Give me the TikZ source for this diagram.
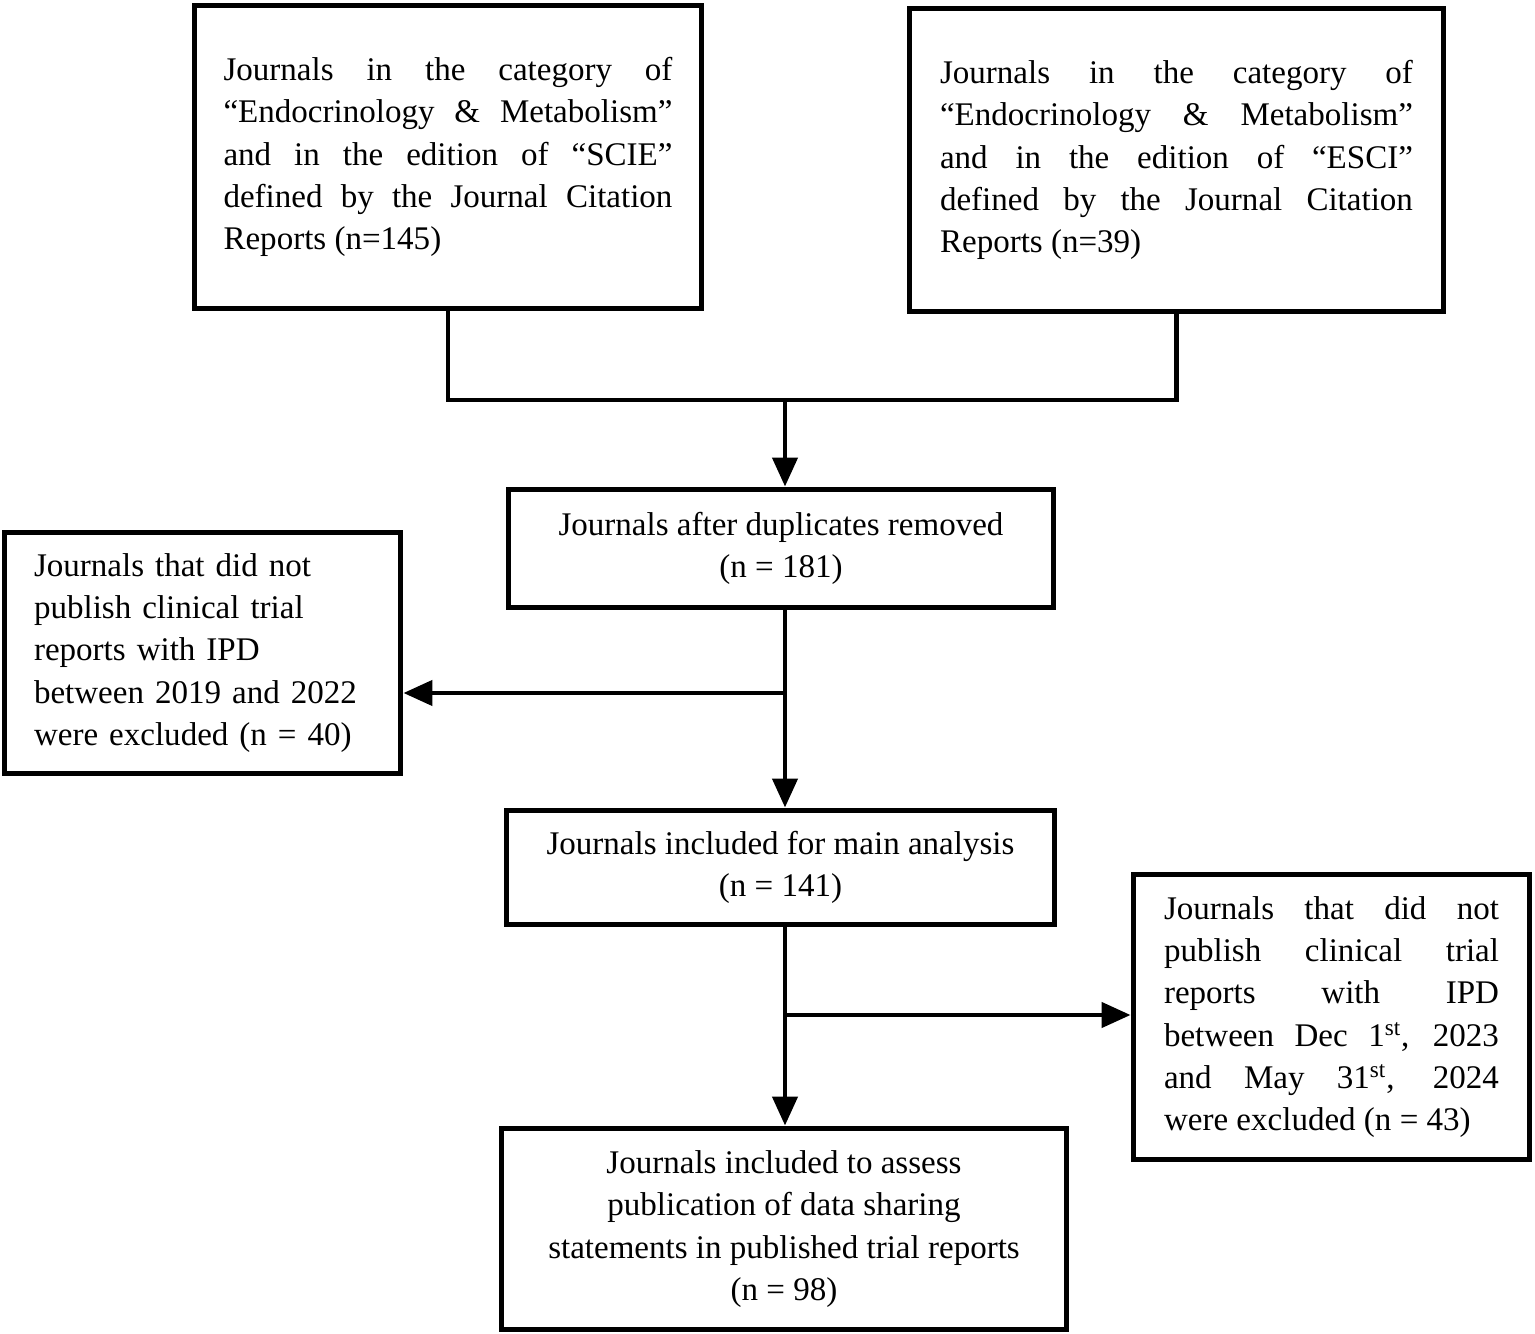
\documentclass[tikz,border=0pt]{standalone}
\usepackage{fontspec}
\setmainfont{Liberation Serif}
\usetikzlibrary{arrows.meta, positioning}

\begin{document}
\begin{tikzpicture}[x=0.02cm, y=-0.02cm,
  box/.style = {draw, line width=0.1cm, inner sep=0pt, font=\fontsize{18.8}{24}\selectfont},
  arr/.style = {line width=0.09cm, -{Triangle[length=0.58cm, width=0.5cm]}},
  line/.style = {line width=0.09cm}]
           \useasboundingbox (0,0) rectangle (1535,1334);

           \node[box, minimum width=10.16cm, minimum height=6.08cm, text width=8.98cm, align=justify] (scie) at (448,157)
             {Journals in the category of\linebreak ``Endocrinology \& Metabolism''\linebreak and in the edition of ``SCIE''\linebreak defined by the Journal Citation\linebreak Reports (n=145)};
           \node[box, minimum width=10.7cm, minimum height=6.08cm, text width=9.46cm, align=justify] (esci) at (1176.5,160)
             {Journals in the category of\linebreak ``Endocrinology \& Metabolism''\linebreak and in the edition of ``ESCI''\linebreak defined by the Journal Citation\linebreak Reports (n=39)};
           \node[box, minimum width=10.92cm, minimum height=2.38cm, align=center] (dedup) at (781,548.5)
             {Journals after duplicates removed\\(n = 181)};
           \node[box, minimum width=7.94cm, minimum height=4.84cm, text width=6.74cm, align=left] (excl1) at (202.5,653)
             {Journals that did not\\publish clinical trial\\reports with IPD\\between 2019 and 2022\\were excluded (n = 40)};
           \node[box, minimum width=10.98cm, minimum height=2.3cm, align=center] (incl) at (780.5,867.5)
             {Journals included for main analysis\\(n = 141)};
           \node[box, minimum width=7.94cm, minimum height=5.72cm, text width=6.7cm, align=justify] (excl2) at (1331.5,1017)
             {Journals that did not\linebreak publish clinical trial\linebreak reports with IPD\linebreak between Dec 1\textsuperscript{st}, 2023\linebreak and May 31\textsuperscript{st}, 2024\linebreak were excluded (n = 43)};
           \node[box, minimum width=11.32cm, minimum height=4.04cm, align=center] (final) at (784,1229)
             {Journals included to assess\\publication of data sharing\\statements in published trial reports\\(n = 98)};

           \coordinate (join) at (785,400);
           \coordinate (split1) at (785,693);
           \coordinate (split2) at (785,1015);

           \draw[line] (scie.south) |- (join) -| (esci.south);
           \draw[arr] (join) -- (join |- dedup.north);
           \draw[arr] (join |- dedup.south) -- (join |- incl.north);
           \draw[arr] (split1) -- (excl1.east |- split1);
           \draw[arr] (join |- incl.south) -- (join |- final.north);
           \draw[arr] (split2) -- (excl2.west |- split2);
\end{tikzpicture}
\end{document}
